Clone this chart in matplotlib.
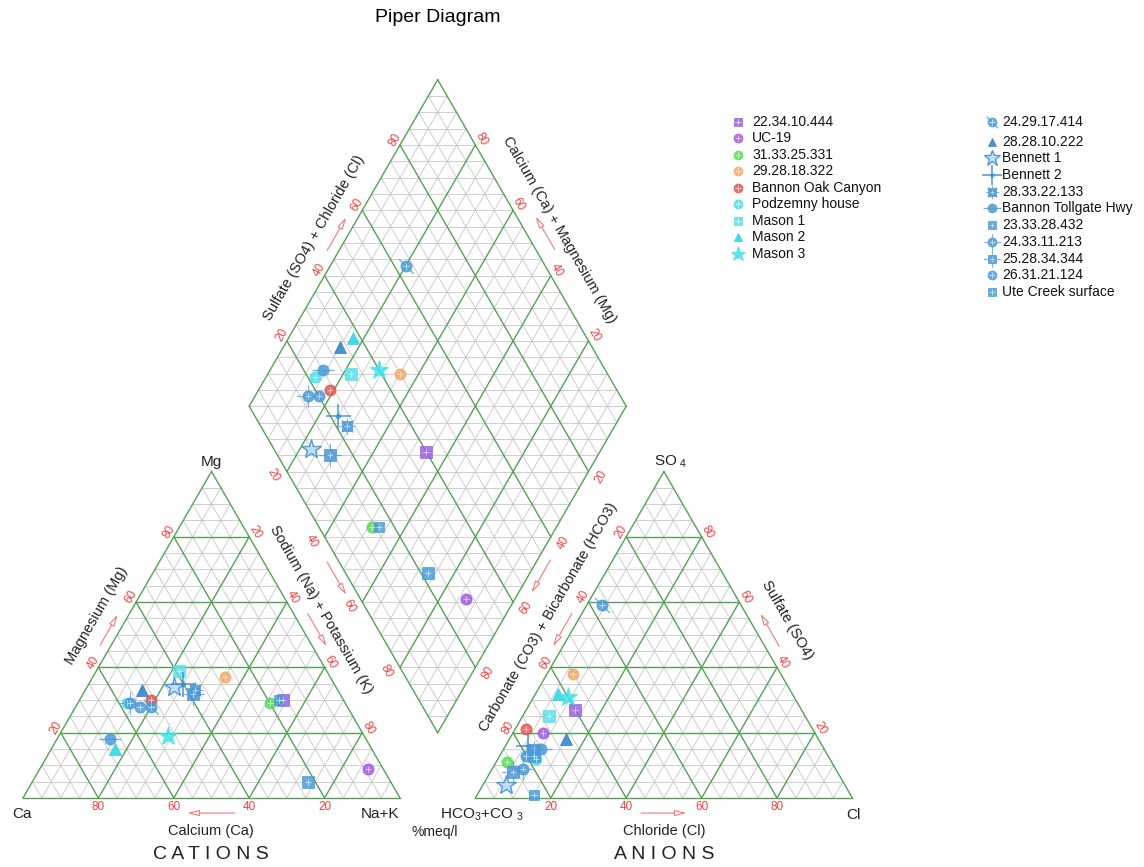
import matplotlib

matplotlib.use("Agg")
import matplotlib.pyplot as plt
import numpy as np

# sample names and major-ion composition, % meq/l
NAMES = [
    "22.34.10.444", "UC-19", "31.33.25.331", "29.28.18.322", "Bannon Oak Canyon",
    "Podzemny house", "Mason 1", "Mason 2", "Mason 3", "24.29.17.414",
    "28.28.10.222", "Bennett 1", "Bennett 2", "28.33.22.133", "Bannon Tollgate Hwy",
    "23.33.28.432", "24.33.11.213", "25.28.34.344", "26.31.21.124", "Ute Creek surface",
]
CA = [16, 4, 20, 28, 51, 58, 39, 68, 52, 52, 52, 43, 40, 38, 68, 17, 57, 39, 55, 22]
MG = [30, 9, 29, 37, 30, 29, 39, 15, 19, 28, 33, 34, 35, 33, 18, 30, 29, 32, 28, 5]
NAK = [54, 87, 51, 35, 19, 13, 22, 17, 29, 20, 15, 23, 25, 29, 14, 53, 14, 29, 17, 73]
HCO3 = [60, 72, 86, 55, 76, 78, 68, 62, 60, 37, 67, 90, 78, 77, 75, 84, 83, 86, 80, 78]
SO4 = [27, 20, 11, 38, 21, 12, 25, 32, 31, 59, 18, 4, 16, 15, 15, 1, 9, 8, 13, 13]
CL = [13, 8, 3, 7, 3, 10, 7, 6, 9, 4, 15, 6, 6, 8, 10, 15, 8, 6, 7, 9]

# marker, colour, size, overlay decoration
STYLES = [
    ("s", "#9a62e0", 8, "grid"),
    ("o", "#a458e6", 8, "grid"),
    ("o", "#58dc58", 8, "grid"),
    ("o", "#f2a866", 8, "grid"),
    ("o", "#e65656", 8, "grid"),
    ("o", "#48e0ea", 8, "grid"),
    ("s", "#58e0ec", 8, "grid"),
    ("^", "#28d4e8", 8, None),
    ("*", "#3ee2ec", 14, None),
    ("o", "#4a9cd8", 8, "diag"),
    ("^", "#2f7ec6", 8, None),
    ("*", "#4a90d0", 15, "hollow"),
    ("+", "#3a8ad0", 18, "thin"),
    ("s", "#4a98d6", 7, "spokes"),
    ("o", "#4a9ad8", 8, "hline"),
    ("s", "#4a9cd8", 7, "grid"),
    ("o", "#4a9ad8", 8, "cross"),
    ("s", "#4a98d6", 8, "cross"),
    ("o", "#4a9ad8", 8, "grid"),
    ("s", "#4a9cd8", 8, "grid"),
]

H = np.sqrt(3) / 2
GAP = 0.2
GREEN = "#55a055"
GREY = "#c6c6c6"
RED = "#ee4040"
ARROW = "#f07a7a"

plt.rcParams["font.family"] = ["Liberation Sans", "DejaVu Sans"]
plt.rcParams["mathtext.fontset"] = "custom"
plt.rcParams["mathtext.rm"] = "Liberation Sans"
plt.rcParams["mathtext.it"] = "Liberation Sans:italic"

fig = plt.figure(figsize=(11.44, 8.67), dpi=100)
ax = fig.add_axes([0, 0, 1, 1])
ax.set_xlim(-0.0610, 2.9735)
ax.set_ylim(-0.1830, 2.1167)
ax.axis("off")

CAT = [np.array([0.0, 0.0]), np.array([1.0, 0.0]), np.array([0.5, H])]
ANI = [np.array([1 + GAP, 0.0]), np.array([2 + GAP, 0.0]), np.array([1.5 + GAP, H])]
BOT = np.array([1 + GAP / 2, GAP / 2 * np.sqrt(3)])
E1 = np.array([0.5, H])
E2 = np.array([-0.5, H])


def seg(p, q, major):
    ax.plot([p[0], q[0]], [p[1], q[1]], color=GREEN if major else GREY,
            lw=1.0 if major else 0.6, zorder=2 if major else 1)


def tri_grid(verts):
    a, b, c = verts
    for k in range(1, 20):
        f = k / 20
        for p, q, r in ((a, b, c), (b, c, a), (c, a, b)):
            seg(p + f * (q - p), p + f * (r - p), k % 4 == 0)
    for p, q in ((a, b), (b, c), (c, a)):
        seg(p, q, True)


def diamond_grid():
    for k in range(1, 20):
        f = k / 20
        seg(BOT + f * E2, BOT + f * E2 + E1, k % 4 == 0)
        seg(BOT + f * E1, BOT + f * E1 + E2, k % 4 == 0)
    for k in range(1, 40):
        h = k * 0.05 * H
        half = h / np.sqrt(3) if h <= H else (2 * H - h) / np.sqrt(3)
        seg(BOT + [-half, h], BOT + [half, h], False)
    corners = [BOT, BOT + E1, BOT + E1 + E2, BOT + E2, BOT]
    for p, q in zip(corners[:-1], corners[1:]):
        seg(p, q, True)


tri_grid(CAT)
tri_grid(ANI)
diamond_grid()


def mark(x, y, style, scale=1.0):
    m, c, s, deco = style
    s = s * scale
    if deco == "hollow":
        ax.plot(x, y, m, ms=s, mfc="#b8dcf6", mec=c, mew=1.0, alpha=0.9, zorder=5)
        return
    if deco == "thin":
        ax.plot(x, y, m, ms=s, color=c, mew=1.1, alpha=0.9, zorder=5)
        ax.plot(x, y, "o", ms=3 * scale, color=c, alpha=0.5, zorder=5)
        return
    ax.plot(x, y, m, ms=s, mfc=c, mec=c, mew=0.6, alpha=0.85, zorder=5)
    if deco == "grid":
        ax.plot(x, y, "+", ms=s * 0.6, mec="white", mew=0.6, alpha=0.7, zorder=6)
    elif deco == "spokes":
        ax.plot(x, y, marker=(8, 2, 0), ms=s * 1.7, mec=c, mew=0.7, alpha=0.7, zorder=6)
        ax.plot(x, y, "+", ms=s * 0.6, mec="white", mew=0.6, alpha=0.7, zorder=6)
    elif deco == "cross":
        ax.plot(x, y, marker=(4, 2, 0), ms=s * 1.9, mec=c, mew=0.8, alpha=0.7, zorder=6)
        ax.plot(x, y, "+", ms=s * 0.6, mec="white", mew=0.6, alpha=0.7, zorder=6)
    elif deco == "hline":
        ax.plot(x, y, "_", ms=s * 2.0, mec=c, mew=0.9, alpha=0.8, zorder=6)
    elif deco == "diag":
        ax.plot(x, y, marker=(2, 2, 45), ms=s * 1.8, mec=c, mew=0.8, alpha=0.7, zorder=6)
        ax.plot(x, y, "+", ms=s * 0.6, mec="white", mew=0.6, alpha=0.7, zorder=6)


ca, mg, nak = (np.array(v) / 100 for v in (CA, MG, NAK))
hco3, so4, cl = (np.array(v) / 100 for v in (HCO3, SO4, CL))
cat_x, cat_y = nak + 0.5 * mg, H * mg
ani_x, ani_y = 1 + GAP + cl + 0.5 * so4, H * so4
anion_sum = so4 + cl
dia = BOT[None, :] + anion_sum[:, None] * E1 + (ca + mg)[:, None] * E2

for i, style in enumerate(STYLES):
    mark(cat_x[i], cat_y[i], style)
    mark(ani_x[i], ani_y[i], style)
    mark(dia[i, 0], dia[i, 1], style)


def tick(x, y, text, rot):
    ax.text(x, y, text, color=RED, fontsize=8.5, rotation=rot, rotation_mode="anchor",
            ha="center", va="center")


for v in (20, 40, 60, 80):
    f = v / 100
    # cation triangle
    tick(1 - f, -0.024, str(v), 0)
    tick(0.5 * f - 0.013, H * f + 0.013, str(v), 60)
    tick(f + 0.5 * (1 - f) + 0.016, H * (1 - f) + 0.013, str(v), -60)
    # anion triangle
    tick(1 + GAP + f, -0.024, str(v), 0)
    tick(1 + GAP + 0.5 * (1 - f) - 0.013, H * (1 - f) + 0.013, str(v), 60)
    tick(1 + GAP + (1 - f) + 0.5 * f + 0.016, H * f + 0.013, str(v), -60)
    # diamond
    p = BOT + E2 + f * E1
    tick(p[0] - 0.013, p[1] + 0.015, str(v), 60)
    p = BOT + E1 + f * E2
    tick(p[0] + 0.015, p[1] + 0.015, str(v), -60)
    p = BOT + (1 - f) * E2
    tick(p[0] - 0.035, p[1] - 0.011, str(v), -60)
    p = BOT + (1 - f) * E1
    tick(p[0] + 0.034, p[1] - 0.015, str(v), 60)


def arrow(cx, cy, dx, dy, length=0.1):
    ux, uy = dx * length / 2, dy * length / 2
    ax.annotate("", xy=(cx + ux, cy + uy), xytext=(cx - ux, cy - uy),
                arrowprops=dict(arrowstyle="-|>,head_length=0.7,head_width=0.18",
                                fc="white", ec=ARROW, lw=0.8, shrinkA=0, shrinkB=0))


arrow(0.499, -0.040, -1, 0, 0.125)
arrow(1.700, -0.040, 1, 0, 0.12)
arrow(0.228, 0.446, 0.5, H, 0.093)
arrow(0.780, 0.446, 0.5, -H)
arrow(0.832, 0.582, 0.5, -H)
arrow(1.374, 0.588, -0.5, -H)
arrow(1.431, 0.446, -0.5, -H)
arrow(1.981, 0.446, -0.5, H)
arrow(0.832, 1.496, 0.5, H)
arrow(1.385, 1.499, -0.5, H)


def label(x, y, text, rot=0, size=10.5, color="#222222"):
    ax.text(x, y, text, fontsize=size, rotation=rot, rotation_mode="anchor",
            ha="center", va="center", color=color)


label(1.101, 2.069, "Piper Diagram", size=14, color="black")
label(0.499, 0.891, "Mg", size=11)
label(-0.003, -0.042, "Ca", size=11)
label(0.947, -0.042, "Na+K", size=11)
label(1.716, 0.891, "SO$_{\\ 4}$", size=11)
label(1.218, -0.045, "HCO$_3$+CO $_3$", size=11)
label(2.202, -0.045, "Cl", size=11)
label(0.499, -0.0875, "Calcium (Ca)")
label(1.700, -0.0875, "Chloride (Cl)")
label(0.499, -0.151, "C A T I O N S", size=14)
label(1.700, -0.151, "A N I O N S", size=14)
label(1.093, -0.090, "%meq/l", size=10)
label(0.196, 0.485, "Magnesium (Mg)", rot=60)
label(0.790, 0.499, "Sodium (Na) + Potassium (K)", rot=-60)
label(1.393, 0.480, "Carbonate (CO3) + Bicarbonate (HCO3)", rot=60)
label(2.027, 0.472, "Sulfate (SO4)", rot=-60)
label(0.772, 1.485, "Sulfate (SO4) + Chloride (Cl)", rot=60)
label(1.424, 1.507, "Calcium (Ca) + Magnesium (Mg)", rot=-60)

# two-column legend
for i, (name, style) in enumerate(zip(NAMES, STYLES)):
    if i < 9:
        mx, tx, y = 1.897, 1.934, 1.794 - i * 0.0438
    else:
        j = i - 9
        mx, tx, y = 2.570, 2.597, 1.794 - (0.053 + (j - 1) * 0.0443 if j else 0)
    mark(mx, y, style, scale=0.8)
    ax.text(tx, y, name, fontsize=10, ha="left", va="center", color="#111111")

fig.savefig("out.png", dpi=100)
